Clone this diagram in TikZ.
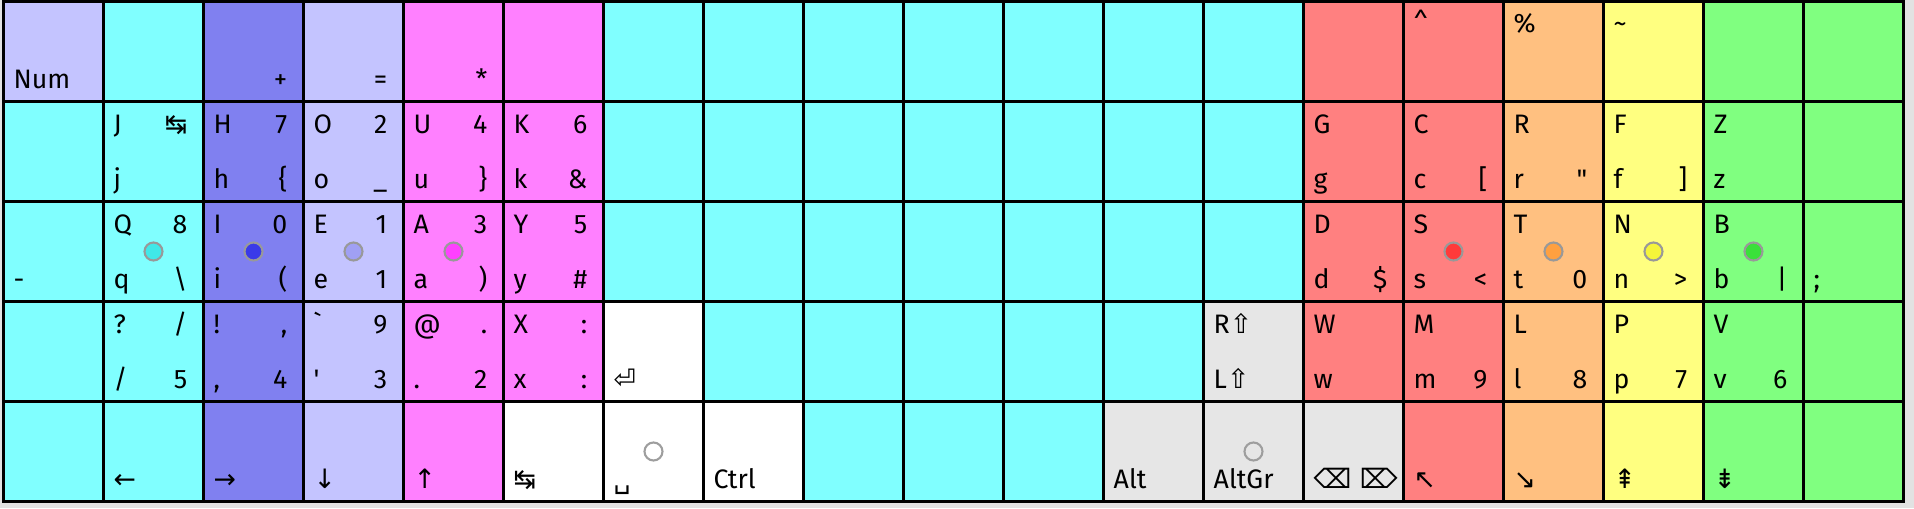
\documentclass[tikz,border=0pt]{standalone}
\usepackage{fontspec}
\setmainfont{Fira Sans}
\newfontfamily\keysym{DejaVu Sans}
\usepackage{xcolor}
\definecolor{kc}{RGB}{128,255,255}
\definecolor{kb}{RGB}{128,128,240}
\definecolor{kl}{RGB}{196,196,255}
\definecolor{km}{RGB}{255,128,255}
\definecolor{kr}{RGB}{255,128,128}
\definecolor{ko}{RGB}{255,192,128}
\definecolor{ky}{RGB}{255,255,128}
\definecolor{kg}{RGB}{128,255,128}
\definecolor{kw}{RGB}{255,255,255}
\definecolor{kx}{RGB}{230,230,230}
\definecolor{kbg}{RGB}{226,226,226}
% dot colours
\definecolor{dc}{RGB}{64,232,232}
\definecolor{db}{RGB}{58,58,232}
\definecolor{dl}{RGB}{160,160,244}
\definecolor{dm}{RGB}{255,64,255}
\definecolor{dr}{RGB}{255,58,58}
\definecolor{do}{RGB}{255,160,64}
\definecolor{dy}{RGB}{245,245,58}
\definecolor{dg}{RGB}{58,224,58}

\begin{document}
\begin{tikzpicture}[x=1cm, y=-1cm,
    cell/.style={draw=black, line width=0.85pt, minimum width=1cm, minimum height=1cm, inner sep=0pt, anchor=north west},
    keylab/.style={inner sep=0pt, font=\fontsize{7.6}{9}\selectfont},
    lab-tl/.style={anchor=base west, shift={(0.11,0.33)}},
    lab-tr/.style={anchor=base east, shift={(0.86,0.33)}},
    lab-bl/.style={anchor=base west, shift={(0.11,0.885)}},
    lab-br/.style={anchor=base east, shift={(0.86,0.885)}},
    dot/.style={circle, minimum size=0.18cm, inner sep=0pt, line width=0.6pt, draw=black!40}
]
% margins
\fill[kbg] (0,0) rectangle (19.14,5.08);

% keys
\foreach \rowcols [count=\r from 0] in {
    {kl,kc,kb,kl,km,km,kc,kc,kc,kc,kc,kc,kc,kr,kr,ko,ky,kg,kg},
    {kc,kc,kb,kl,km,km,kc,kc,kc,kc,kc,kc,kc,kr,kr,ko,ky,kg,kg},
    {kc,kc,kb,kl,km,km,kc,kc,kc,kc,kc,kc,kc,kr,kr,ko,ky,kg,kg},
    {kc,kc,kb,kl,km,km,kw,kc,kc,kc,kc,kc,kx,kr,kr,ko,ky,kg,kg},
    {kc,kc,kb,kl,km,kw,kw,kw,kc,kc,kc,kx,kx,kx,kr,ko,ky,kg,kg}}
  \foreach \col [count=\i from 0] in \rowcols
    \node[cell, fill=\col] (c-\i-\r) at (0.02+\i, \r) {};

% home row dots
\foreach \i/\col in {1/dc, 2/db, 3/dl, 4/dm, 14/dr, 15/do, 16/dy, 17/dg}
  \node[dot, fill=\col] (d-\i-2) at (c-\i-2.center) {};
\foreach \i in {6, 12}
  \node[dot, draw=black!38] (d-\i-4) at (c-\i-4.center) {};

% labels
\foreach \i/\r/\p/\t in {
    0/0/bl/Num, 2/0/br/+, 3/0/br/=, 4/0/br/*, 14/0/tl/\textasciicircum, 15/0/tl/\%, 16/0/tl/\textasciitilde,
    1/1/tl/J, 1/1/tr/{\keysym ↹}, 1/1/bl/j, 2/1/tl/H, 2/1/tr/7, 2/1/bl/h, 2/1/br/\{,
    3/1/tl/O, 3/1/tr/2, 3/1/bl/o, 3/1/br/\_, 4/1/tl/U, 4/1/tr/4, 4/1/bl/u, 4/1/br/\},
    5/1/tl/K, 5/1/tr/6, 5/1/bl/k, 5/1/br/\&, 13/1/tl/G, 13/1/bl/g, 14/1/tl/C, 14/1/bl/c, 14/1/br/{[},
    15/1/tl/R, 15/1/bl/r, 15/1/br/\textquotedbl, 16/1/tl/F, 16/1/bl/f, 16/1/br/{]}, 17/1/tl/Z, 17/1/bl/z,
    0/2/bl/-, 1/2/tl/Q, 1/2/tr/8, 1/2/bl/q, 1/2/br/\textbackslash, 2/2/tl/I, 2/2/tr/0, 2/2/bl/i, 2/2/br/(,
    3/2/tl/E, 3/2/tr/1, 3/2/bl/e, 3/2/br/1, 4/2/tl/A, 4/2/tr/3, 4/2/bl/a, 4/2/br/),
    5/2/tl/Y, 5/2/tr/5, 5/2/bl/y, 5/2/br/\#, 13/2/tl/D, 13/2/bl/d, 13/2/br/\$, 14/2/tl/S, 14/2/bl/s, 14/2/br/<,
    15/2/tl/T, 15/2/bl/t, 15/2/br/0, 16/2/tl/N, 16/2/bl/n, 16/2/br/>, 17/2/tl/B, 17/2/bl/b, 17/2/br/|, 18/2/bl/;,
    1/3/tl/?, 1/3/tr/{/}, 1/3/bl/{/}, 1/3/br/5, 2/3/tl/!, 2/3/tr/{,}, 2/3/bl/{,}, 2/3/br/4,
    3/3/tl/\textasciigrave, 3/3/tr/9, 3/3/bl/\textquotesingle, 3/3/br/3, 4/3/tl/@, 4/3/tr/., 4/3/bl/., 4/3/br/2,
    5/3/tl/X, 5/3/tr/:, 5/3/bl/x, 5/3/br/:, 6/3/bl/{\keysym ⏎}, 12/3/tl/R{\keysym ⇧}, 12/3/bl/L{\keysym ⇧},
    13/3/tl/W, 13/3/bl/w, 14/3/tl/M, 14/3/bl/m, 14/3/br/9, 15/3/tl/L, 15/3/bl/l, 15/3/br/8,
    16/3/tl/P, 16/3/bl/p, 16/3/br/7, 17/3/tl/V, 17/3/bl/v, 17/3/br/6,
    1/4/bl/{\keysym ←}, 2/4/bl/{\keysym →}, 3/4/bl/{\keysym ↓}, 4/4/bl/{\keysym ↑}, 5/4/bl/{\keysym ↹},
    6/4/bl/{\keysym ␣}, 7/4/bl/Ctrl, 11/4/bl/Alt, 12/4/bl/AltGr, 13/4/bl/{\keysym ⌫ ⌦},
    14/4/bl/{\keysym ↖}, 15/4/bl/{\keysym ↘}, 16/4/bl/{\keysym ⇞}, 17/4/bl/{\keysym ⇟}}
  \node[keylab, lab-\p] (l-\i-\r-\p) at (c-\i-\r.north west) {\t};
\end{tikzpicture}
\end{document}
